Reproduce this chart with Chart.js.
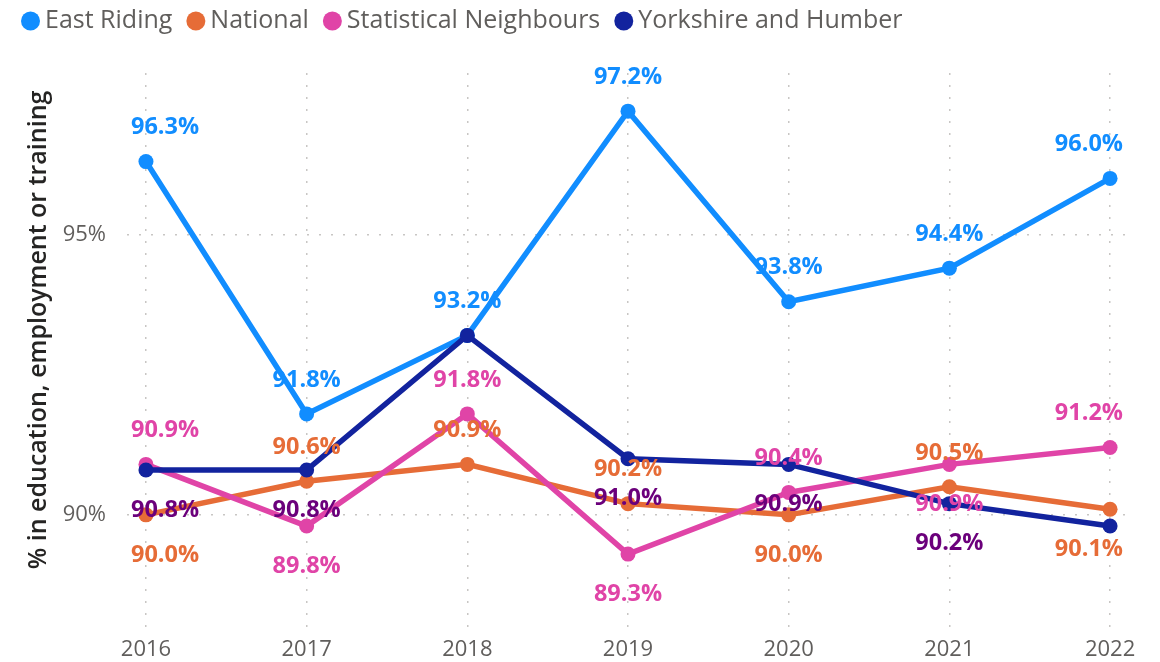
<!DOCTYPE html>
<html><head><meta charset="utf-8">
<script src="https://cdn.jsdelivr.net/npm/chart.js@4.4.0/dist/chart.umd.min.js"></script>
<style>html,body{margin:0;padding:0;background:#fff;overflow:hidden}#wrap{width:1160px;height:662px;position:relative}</style>
</head><body><div id="wrap"><canvas id="c"></canvas></div>
<script>
const years = [2016, 2017, 2018, 2019, 2020, 2021, 2022];
const eastRiding = [96.3, 91.8, 93.2, 97.2, 93.8, 94.4, 96.0];
const national = [90.0, 90.6, 90.9, 90.2, 90.0, 90.5, 90.1];
const statNeighbours = [90.9, 89.8, 91.8, 89.3, 90.4, 90.9, 91.2];
const yorkshire = [90.8, 90.8, 93.2, 91.0, 90.9, 90.2, 89.8];
const seriesNames = ['East Riding', 'National', 'Statistical Neighbours', 'Yorkshire and Humber'];
const yTickValues = [90, 95];
const yTitle = '% in education, employment or training';

const FONT = "'Open Sans', 'Noto Sans', 'DejaVu Sans', sans-serif";
const colors = ['#118DFF', '#E66C37', '#E044A7', '#12239E'];
const labelColors = ['#118DFF', '#E66C37', '#E044A7', '#6B007B'];
// label placement: a = above, b = below, '' = hidden
const placements = [
  ['a','a','a','a','a','a','a'],
  ['b','a','a','a','b','a','b'],
  ['a','b','a','b','a','b','a'],
  ['b','b','','b','b','b','']
];
const seriesValues = [eastRiding, national, statNeighbours, yorkshire];
const drawOrder = [3, 2, 1, 0];

const datasets = seriesValues.map((vals, i) => ({
  label: seriesNames[i],
  data: years.map((yr, j) => ({x: yr, y: vals[j]})),
  borderColor: colors[i],
  backgroundColor: colors[i],
  pointBackgroundColor: colors[i],
  pointBorderWidth: 0,
  pointRadius: 7.5,
  pointHoverRadius: 7.5,
  borderWidth: 5.5,
  tension: 0,
  order: drawOrder[i],
  labelPos: placements[i],
  labelColor: labelColors[i]
}));

const labelPlugin = {
  id: 'pointLabels',
  afterDatasetsDraw(chart) {
    const ctx = chart.ctx, area = chart.chartArea;
    ctx.save();
    ctx.font = `bold 23.5px ${FONT}`;
    ctx.textAlign = 'center';
    ctx.textBaseline = 'middle';
    chart.data.datasets.forEach((ds, i) => {
      const meta = chart.getDatasetMeta(i);
      meta.data.forEach((pt, j) => {
        const pos = ds.labelPos[j];
        if (!pos) return;
        const txt = ds.data[j].y.toFixed(1) + '%';
        const w = ctx.measureText(txt).width;
        const x = Math.max(area.left + 4 + w / 2, Math.min(area.right - 2 - w / 2, pt.x));
        const y = pos === 'a' ? pt.y - 34 : pt.y + 40;
        ctx.fillStyle = ds.labelColor;
        ctx.fillText(txt, x, y);
      });
    });
    ctx.restore();
  }
};

const legendAndTitlePlugin = {
  id: 'customLegend',
  afterDraw(chart) {
    const ctx = chart.ctx;
    ctx.save();
    ctx.font = `25px ${FONT}`;
    ctx.textBaseline = 'middle';
    ctx.textAlign = 'left';
    let x = 21;
    const cy = 21;
    chart.data.datasets.forEach((ds) => {
      ctx.fillStyle = ds.borderColor;
      ctx.beginPath();
      ctx.arc(x + 9.5, cy, 9.5, 0, Math.PI * 2);
      ctx.fill();
      ctx.fillStyle = '#605E5C';
      const tx = x + 24;
      ctx.fillText(ds.label, tx, cy);
      x = tx + ctx.measureText(ds.label).width + 14;
    });
    // y axis title, centred on the whole visual
    ctx.translate(39, 330);
    ctx.rotate(-Math.PI / 2);
    ctx.textAlign = 'center';
    ctx.fillStyle = '#252423';
    ctx.font = `600 25px ${FONT}`;
    ctx.fillText(yTitle, 0, 0);
    ctx.restore();
  }
};

new Chart(document.getElementById('c'), {
  type: 'line',
  data: { datasets },
  options: {
    responsive: true,
    maintainAspectRatio: false,
    animation: false,
    layout: { padding: { top: 73, right: 35, left: 0, bottom: 0 } },
    plugins: { legend: { display: false }, tooltip: { enabled: false } },
    scales: {
      x: {
        type: 'linear',
        min: years[0] - 0.118,
        max: years[years.length - 1] + 0.093,
        afterBuildTicks: (s) => { s.ticks = years.map(v => ({value: v})); },
        afterFit: (s) => { s.height = 35; },
        ticks: { color: '#605E5C', font: { family: FONT, size: 22 }, padding: 10, callback: (v) => String(v), maxRotation: 0 },
        grid: { color: '#C8C6C4', lineWidth: 1.5, drawTicks: false },
        border: { display: false, dash: [2, 10] }
      },
      y: {
        min: 88,
        max: 97.88,
        afterBuildTicks: (s) => { s.ticks = yTickValues.map(v => ({value: v})); },
        afterFit: (s) => { s.width = 127; },
        ticks: { color: '#605E5C', font: { family: FONT, size: 22 }, padding: 21, callback: (v) => v + '%' },
        grid: { color: '#C8C6C4', lineWidth: 1.5, drawTicks: false },
        border: { display: false, dash: [2, 10] },
        title: { display: false }
      }
    }
  },
  plugins: [labelPlugin, legendAndTitlePlugin]
});
</script>
</body></html>
